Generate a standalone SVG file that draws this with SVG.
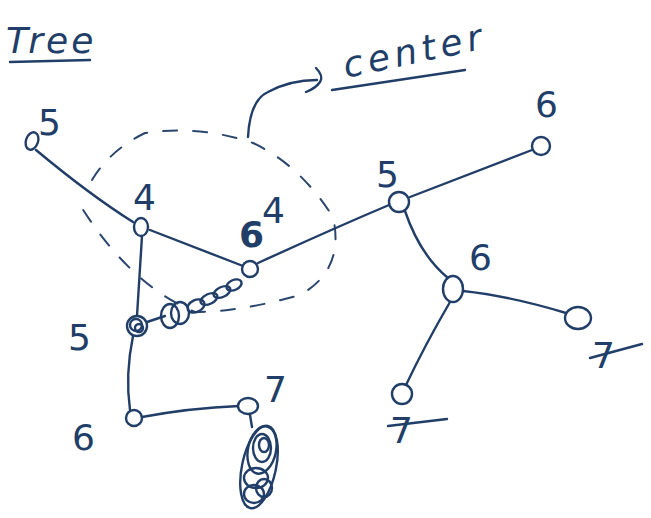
<svg xmlns="http://www.w3.org/2000/svg" width="651" height="518" viewBox="0 0 651 518">
<style>
.ink{fill:none;stroke:#213e68;stroke-width:2.4;stroke-linecap:round;stroke-linejoin:round}
.dash{fill:none;stroke:#2a466e;stroke-width:2;stroke-dasharray:14 16;stroke-linecap:round}
.lbl{font-family:"DejaVu Sans","Liberation Sans",sans-serif;fill:#213e68;font-size:36px}
.title{font-family:"DejaVu Sans","Liberation Sans",sans-serif;fill:#213e68;font-style:italic}
.node{fill:#fff;stroke:#213e68;stroke-width:2.4}
</style>
<rect width="651" height="518" fill="#fff"/>
<g id="title">
<text class="title" x="6" y="53" font-size="36" letter-spacing="3">Tree</text>
<path class="ink" d="M10 62 L90 60"/>
</g>
<g id="center-note">
<text class="title" x="346" y="78" font-size="36" letter-spacing="5" transform="rotate(-12 346 78)">center</text>
<path class="ink" d="M332 90 L465 70"/>
<path class="ink" d="M248 137 Q250 100 268 92 Q290 80 317 80"/>
<path class="ink" d="M316 68 Q324 76 320 82 Q316 88 306 92"/>
<path class="dash" d="M92 180 Q110 150 145 133 Q200 125 253 143 Q300 165 333 217 Q345 270 300 295 Q240 312 195 312 Q130 285 80 205"/>
</g>
<g id="connectors">
<path class="ink" d="M36 150 Q90 195 133 222"/>
<path class="ink" d="M150 230 L243 266"/>
<path class="ink" d="M142 236 L137 316"/>
<path class="ink" d="M133 336 Q125 375 130 410"/>
<path class="ink" d="M142 417 Q190 408 239 406"/>
<path class="ink" d="M258 263 Q330 230 389 205"/>
<path class="ink" d="M410 197 L532 150"/>
<path class="ink" d="M405 211 Q420 255 448 278"/>
<path class="ink" d="M463 291 Q510 296 566 313"/>
<path class="ink" d="M450 302 Q425 345 406 385"/>
<path class="ink" d="M147 322 L165 316"/>
<path class="ink" d="M250 415 L252 427"/>
</g>
<g id="n5a"><ellipse class="node" cx="32" cy="141" rx="6" ry="9" transform="rotate(20 32 141)"/><text class="lbl" x="38" y="135" font-size="30">5</text></g>
<g id="n4a"><ellipse class="node" cx="141" cy="227" rx="7" ry="9"/><text class="lbl" x="133" y="210" font-size="38">4</text></g>
<g id="n4b"><circle class="node" cx="250" cy="269" r="8"/><text class="lbl" x="239" y="247" font-size="26" font-weight="bold">6</text><text class="lbl" x="262" y="223" font-size="30">4</text></g>
<g id="n5b">
<circle class="node" cx="137" cy="326" r="10"/>
<circle class="ink" cx="136" cy="325" r="6"/><circle class="ink" cx="139" cy="328" r="4"/>
<text class="lbl" x="68" y="350" font-size="38">5</text>
</g>
<g id="chain">
<ellipse class="ink" cx="170" cy="316" rx="9" ry="12"/>
<ellipse class="ink" cx="180" cy="313" rx="9" ry="11"/>
<ellipse class="ink" cx="196" cy="306" rx="9" ry="6" transform="rotate(-25 196 306)"/>
<ellipse class="ink" cx="209" cy="299" rx="9" ry="5" transform="rotate(-25 209 299)"/>
<ellipse class="ink" cx="222" cy="292" rx="9" ry="5" transform="rotate(-25 222 292)"/>
<ellipse class="ink" cx="234" cy="285" rx="8" ry="5" transform="rotate(-25 234 285)"/>
</g>
<g id="n6a"><circle class="node" cx="134" cy="418" r="8"/><text class="lbl" x="72" y="450" font-size="34">6</text></g>
<g id="n7a"><ellipse class="node" cx="248" cy="406" rx="10" ry="8"/><text class="lbl" x="264" y="402" font-size="36">7</text></g>
<g id="scribble">
<ellipse class="ink" cx="259" cy="467" rx="17" ry="42" transform="rotate(12 259 467)"/>
<ellipse class="ink" cx="262" cy="450" rx="14" ry="24" transform="rotate(12 262 450)"/>
<ellipse class="ink" cx="262" cy="448" rx="9" ry="14"/>
<ellipse class="ink" cx="256" cy="478" rx="12" ry="10"/>
<ellipse class="ink" cx="254" cy="494" rx="10" ry="9"/>
<ellipse class="ink" cx="264" cy="488" rx="8" ry="9"/>
<ellipse class="ink" cx="264" cy="445" rx="5" ry="7"/>
</g>
<g id="n5c"><circle class="node" cx="399" cy="202" r="10"/><text class="lbl" x="376" y="187" font-size="40">5</text></g>
<g id="n6b"><circle class="node" cx="541" cy="146" r="9"/><text class="lbl" x="535" y="117" font-size="42">6</text></g>
<g id="n6c"><ellipse class="node" cx="453" cy="289" rx="10" ry="13"/><text class="lbl" x="469" y="270" font-size="44">6</text></g>
<g id="n7b"><ellipse class="node" cx="578" cy="318" rx="13" ry="11"/><text class="lbl" x="592" y="368" font-size="42">7</text><path class="ink" d="M590 358 L642 344"/></g>
<g id="n7c"><circle class="node" cx="402" cy="394" r="10"/><text class="lbl" x="390" y="443" font-size="42">7</text><path class="ink" d="M388 426 L447 419"/></g>
</svg>
